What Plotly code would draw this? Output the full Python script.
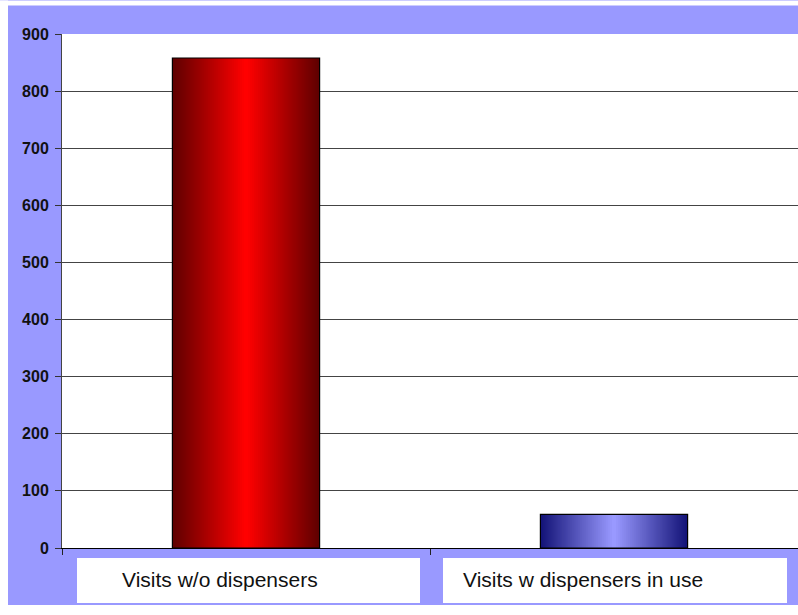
import plotly.graph_objects as go

# ---- data ----
categories = ["Visits w/o dispensers", "Visits w dispensers in use"]
values = [858, 59]
y_ticks = [0, 100, 200, 300, 400, 500, 600, 700, 800, 900]

# ---- styles ----
dark_colors = [(0x60, 0x00, 0x00), (0x14, 0x14, 0x78)]
bright_colors = [(0xFF, 0x00, 0x00), (0x99, 0x99, 0xFF)]
BG = "#9999FF"
W, H = 798, 615
L, R, T, B = 62, 0, 33.5, 67
BAR_W = 0.40
N = 37

fig = go.Figure()

def mix(c1, c2, t):
    return "rgb(%d,%d,%d)" % tuple(round(a + (b - a) * t) for a, b in zip(c1, c2))

for i in range(N):
    t = i / (N - 1)
    w = BAR_W * (1 - i / N)
    fig.add_trace(go.Bar(
        x=categories, y=values, width=w,
        marker=dict(color=[mix(d, b, t) for d, b in zip(dark_colors, bright_colors)],
                    line=dict(width=0)),
        hoverinfo="skip", showlegend=False,
    ))
# outline
fig.add_trace(go.Bar(
    x=categories, y=values, width=BAR_W,
    marker=dict(color="rgba(0,0,0,0)", line=dict(color="black", width=1.2)),
    showlegend=False,
))

pw = W - L - R
ph = H - T - B
def px(x):
    return (x - L) / pw
def py(y):
    return (H - B - y) / ph

shapes = [
    dict(type="rect", xref="paper", yref="paper", x0=px(0), x1=px(8), y0=py(H), y1=py(0),
         fillcolor="white", line=dict(width=0), layer="above"),
    dict(type="rect", xref="paper", yref="paper", x0=px(0), x1=px(W), y0=py(5), y1=py(0),
         fillcolor="white", line=dict(width=0), layer="above"),
    dict(type="rect", xref="paper", yref="paper", x0=px(0), x1=px(W), y0=py(H), y1=py(605),
         fillcolor="white", line=dict(width=0), layer="above"),
    dict(type="rect", xref="paper", yref="paper", x0=px(77), x1=px(420), y0=py(603), y1=py(558),
         fillcolor="white", line=dict(width=0), layer="above"),
    dict(type="rect", xref="paper", yref="paper", x0=px(443), x1=px(787), y0=py(603), y1=py(558),
         fillcolor="white", line=dict(width=0), layer="above"),
]

label_x = [120, 461]
annotations = [
    dict(text=c, xref="paper", yref="paper", x=px(lx), y=py(580), xanchor="left", yanchor="middle",
         showarrow=False, font=dict(family="Liberation Sans, Arial", size=21, color="#111111"))
    for c, lx in zip(categories, label_x)
]

fig.update_layout(
    width=W, height=H,
    margin=dict(l=L, r=R, t=T, b=B, pad=0),
    paper_bgcolor=BG, plot_bgcolor="white",
    barmode="overlay",
    shapes=shapes, annotations=annotations,
    font=dict(family="Liberation Sans, Arial", color="#111111"),
    xaxis=dict(showticklabels=False, tickson="boundaries", ticks="outside", ticklen=6,
               tickcolor="#222222", showline=True, linecolor="black", linewidth=1,
               showgrid=False, range=[-0.5, 1.5], fixedrange=True),
    yaxis=dict(range=[0, 900], tickvals=y_ticks, ticks="outside", ticklen=6, tickcolor="#333333",
               showline=True, linecolor="#444444", linewidth=1,
               showgrid=True, gridcolor="#444444", gridwidth=1, zeroline=False,
               ticklabelstandoff=3,
               tickfont=dict(family="Liberation Sans, Arial", size=16, color="#111111", weight="bold"),
               fixedrange=True),
)

fig.write_html("out.html", config={"displayModeBar": False},
               post_script="document.body.style.margin='0';document.body.style.overflow='hidden';")
